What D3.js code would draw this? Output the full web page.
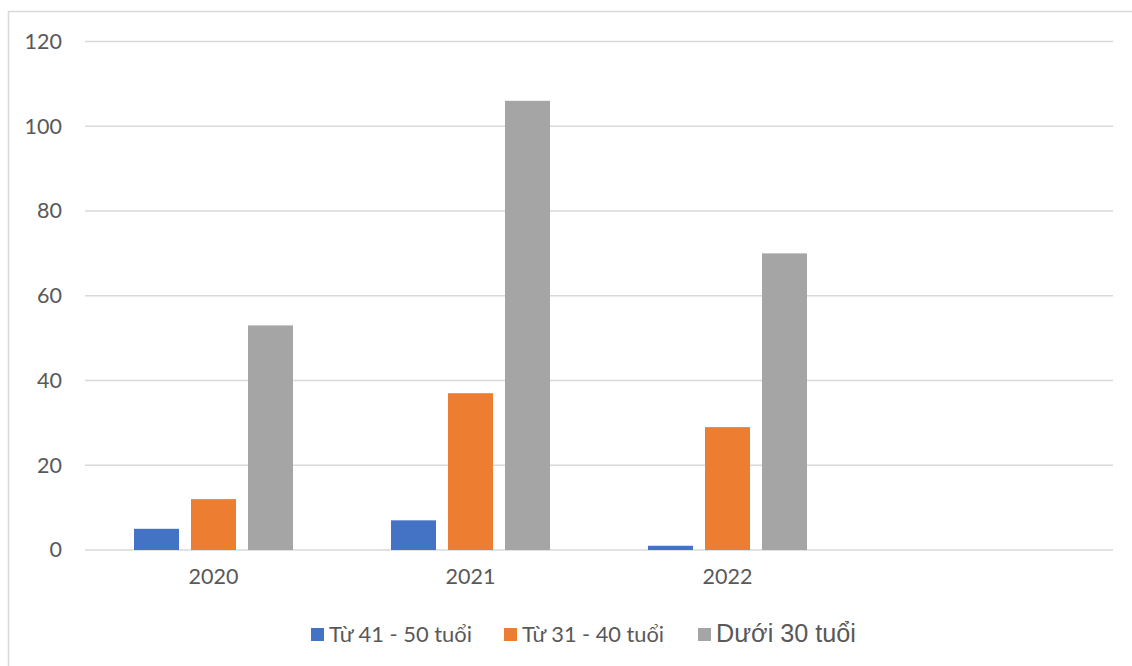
<!DOCTYPE html>
<html><head><meta charset="utf-8">
<script src="https://cdn.jsdelivr.net/npm/d3@7"></script>
<style>body{margin:0;background:#fff}svg{display:block}text{font-family:Lato,"Open Sans",sans-serif;fill:#595959}</style>
</head><body><svg id="c" width="1132" height="666"></svg>
<script>
const categories = ["2020", "2021", "2022", ""];
const seriesNames = ["Từ 41 - 50 tuổi", "Từ 31 - 40 tuổi", "Dưới 30 tuổi"];
const seriesColors = ["#4472C4", "#ED7D31", "#A5A5A5"];
const s41_50 = [5, 7, 1, null];
const s31_40 = [12, 37, 29, null];
const under30 = [53, 106, 70, null];
const yTicks = [0, 20, 40, 60, 80, 100, 120];

const series = [s41_50, s31_40, under30];
const svg = d3.select("#c");
svg.append("rect").attr("x", 8.5).attr("y", 11.5).attr("width", 1140).attr("height", 700)
  .attr("fill", "none").attr("stroke", "#d9d9d9").attr("stroke-width", 1.5);

const x = d3.scaleBand().domain(categories).range([85, 1113]);
const y = d3.scaleLinear().domain([0, 120]).range([550, 41.5]);
const inner = d3.scaleBand().domain([0,1,2]).range([0, 159]).paddingInner(12/57);

svg.append("g").selectAll("line").data(yTicks).join("line")
  .attr("x1", 85).attr("x2", 1113).attr("y1", d => y(d)).attr("y2", d => y(d))
  .attr("stroke", "#d9d9d9").attr("stroke-width", 1.3);

const yAxis = svg.append("g").attr("transform", "translate(72,0)")
  .call(d3.axisLeft(y).tickValues(yTicks).tickSize(0).tickPadding(10));
yAxis.select(".domain").remove();
yAxis.selectAll("text").style("font-size", "21.5px").attr("fill", "#595959").style("font-family", 'Lato,"Open Sans",sans-serif');

const xAxis = svg.append("g").attr("transform", "translate(0,557)")
  .call(d3.axisBottom(x).tickSize(0).tickPadding(12));
xAxis.select(".domain").remove();
xAxis.selectAll("text").style("font-size", "21.5px").attr("fill", "#595959").style("font-family", 'Lato,"Open Sans",sans-serif');

series.forEach((vals, si) => {
  svg.append("g").selectAll("rect").data(categories.map((c, i) => ({c, v: vals[i]})).filter(d => d.v != null))
    .join("rect")
    .attr("x", d => x(d.c) + (x.bandwidth() - 159) / 2 + inner(si))
    .attr("width", inner.bandwidth())
    .attr("y", d => y(d.v))
    .attr("height", d => y(0) - y(d.v))
    .attr("fill", seriesColors[si]);
});

const legend = [
  {x: 311, w: 143, font: 'Lato,"Open Sans",sans-serif'},
  {x: 504, w: 142, font: 'Lato,"Open Sans",sans-serif'},
  {x: 698, w: 140, font: '"Liberation Sans",Arial,sans-serif'}
];
seriesNames.forEach((n, i) => {
  const g = svg.append("g");
  g.append("rect").attr("x", legend[i].x).attr("y", 628).attr("width", 13).attr("height", 13).attr("fill", seriesColors[i]);
  const t = g.append("text").attr("x", legend[i].x + 18).attr("y", 642)
    .style("font-family", legend[i].font).style("font-size", "20px").text(n);
  const w = t.node().getComputedTextLength();
  t.style("font-size", (20 * legend[i].w / w).toFixed(2) + "px");
});
</script></body></html>
